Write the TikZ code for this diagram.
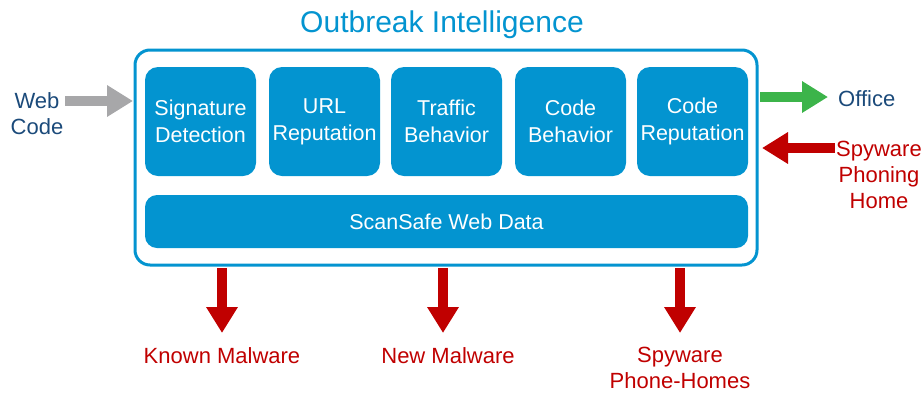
\documentclass[tikz,border=0pt]{standalone}
\usepackage{fontspec}
\setmainfont{Liberation Sans}
\usetikzlibrary{arrows.meta}
\definecolor{cblue}{HTML}{0394D0}
\definecolor{cnavy}{HTML}{1B4A7A}
\definecolor{cred}{HTML}{C00000}
\definecolor{cgreen}{HTML}{3CB44A}
\definecolor{cgray}{HTML}{A7A7A9}
\tikzset{
  modbox/.style={fill=cblue, rounded corners=13pt, minimum width=111pt, minimum height=109pt,
    inner sep=0pt, text=white, font=\fontsize{21.5}{27}\selectfont, align=center},
  fatarrow/.style={line width=10pt, -{Triangle[length=26pt,width=30pt]}},
  lbl/.style={font=\fontsize{22}{26}\selectfont, align=center, inner sep=0pt},
}
\begin{document}
\begin{tikzpicture}[x=1pt,y=-1pt]
\useasboundingbox (0,0) rectangle (922,392);
\node[text=cblue, font=\fontsize{30}{34}\selectfont, inner sep=0pt] (title) at (442,25) {Outbreak Intelligence};
\node[draw=cblue, line width=3pt, rounded corners=15pt, minimum width=622pt, minimum height=215pt, inner sep=0pt] (outer) at (446,157.5) {};
\node[modbox] (sig) at (200.5,121.5) {Signature\\Detection};
\node[modbox] (url) at (324.5,121.5) {URL\\Reputation};
\node[modbox] (traf) at (446.5,121.5) {Traffic\\Behavior};
\node[modbox] (cbeh) at (570.5,121.5) {Code\\Behavior};
\node[modbox] (crep) at (692.5,121.5) {Code\\Reputation};
\node[modbox, minimum width=603pt, minimum height=53pt, rounded corners=12pt] (bar) at (446.5,221.5) {ScanSafe Web Data};
% left input
\node[lbl, text=cnavy] (web) at (37,114) {Web\\Code};
\coordinate (gs) at (65,101);
\coordinate (ge) at (133,101);
\draw[fatarrow, draw=cgray, fill=cgray] (gs) -- (ge);
% office
\node[lbl, text=cnavy, anchor=west] (office) at (838,99) {Office};
\coordinate (os) at (760,97);
\coordinate (oe) at (828,97);
\draw[fatarrow, draw=cgreen, fill=cgreen] (os) -- (oe);
% spyware phoning home
\node[lbl, text=cred] (sph) at (879,175) {Spyware\\Phoning\\Home};
\coordinate (ss) at (835,148);
\coordinate (se) at (762,148);
\draw[fatarrow, draw=cred, fill=cred] (ss) -- (se);
% down arrows
\coordinate (d1s) at (222,268); \coordinate (d1e) at (222,333);
\coordinate (d2s) at (443,268); \coordinate (d2e) at (443,333);
\coordinate (d3s) at (680,268); \coordinate (d3e) at (680,333);
\draw[fatarrow, draw=cred, fill=cred] (d1s) -- (d1e);
\draw[fatarrow, draw=cred, fill=cred] (d2s) -- (d2e);
\draw[fatarrow, draw=cred, fill=cred] (d3s) -- (d3e);
\node[lbl, text=cred] (km) at (222,356) {Known Malware};
\node[lbl, text=cred] (nm) at (448,356) {New Malware};
\node[lbl, text=cred] (spy) at (680,368) {Spyware\\Phone-Homes};
\end{tikzpicture}
\end{document}
